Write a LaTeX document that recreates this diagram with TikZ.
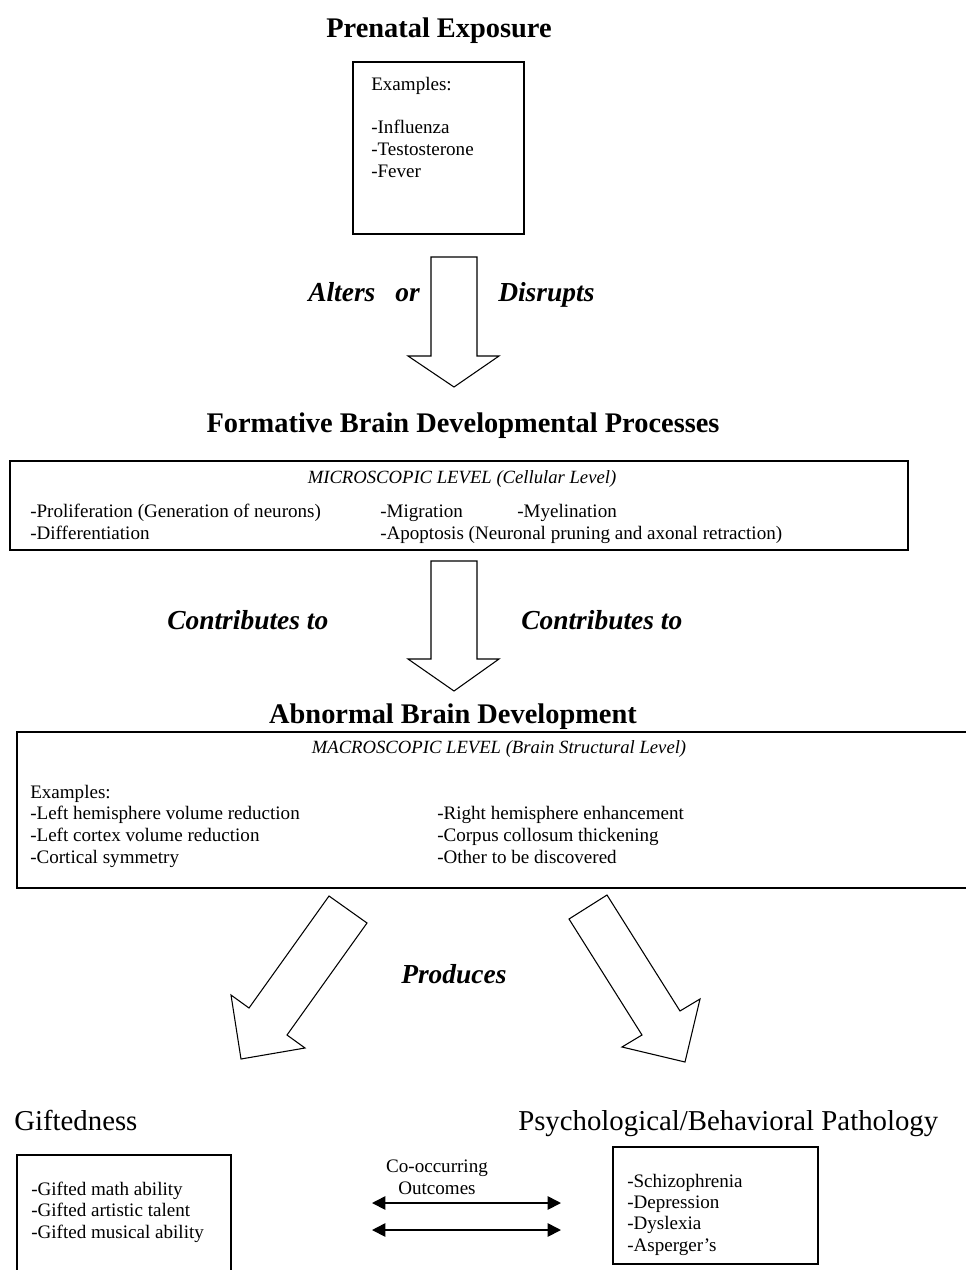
\documentclass[tikz,border=0pt]{standalone}
\usepackage{fontspec}
\setmainfont{Liberation Serif}
\usetikzlibrary{arrows.meta}

\tikzset{
  body/.style={font=\fontsize{14.3}{16.5}\selectfont, inner sep=0pt, anchor=base west},
  head/.style={font=\fontsize{21.3}{25}\selectfont\bfseries, inner sep=0pt, anchor=base},
  verb/.style={font=\fontsize{20.6}{24}\selectfont\bfseries\itshape, inner sep=0pt, anchor=base west},
  outcome/.style={font=\fontsize{21.6}{25}\selectfont, inner sep=0pt, anchor=base west},
  level/.style={font=\fontsize{14}{16.5}\selectfont\itshape, inner sep=0pt, anchor=base},
  frame/.style={draw, line width=1.1pt},
  blockarrow/.style={draw, line width=0.8pt, line join=miter, fill=white},
  both/.style={line width=1.3pt, {Triangle[length=10pt,width=10pt]}-{Triangle[length=10pt,width=10pt]}}
}

\begin{document}
\begin{tikzpicture}[x=0.75pt,y=-0.75pt]
  \useasboundingbox (0,0) rectangle (965,1270);

  % Prenatal exposure
  \node[head] (prenatal) at (439,38) {Prenatal Exposure};
  \draw[frame] (353,62) rectangle (524,234);
  \node[body] (exhead) at (371,90) {Examples:};
  \foreach \lab/\y [count=\i] in {Influenza/133, Testosterone/155, Fever/177}
    \node[body] (ex\i) at (371,\y) {-\lab};

  % Straight block arrows
  \foreach \ytop/\ybot/\ytip in {257/356/387, 561/659/691}
    \draw[blockarrow] (431,\ytop) -- (477,\ytop) -- (477,\ybot) -- (499,\ybot)
      -- (454,\ytip) -- (408,\ybot) -- (431,\ybot) -- cycle;

  \node[verb] (alters) at (308,301) {Alters};
  \node[verb] (or) at (395,301) {or};
  \node[verb] (disrupts) at (498,301) {Disrupts};

  % Formative processes
  \node[head] (formative) at (463,432) {Formative Brain Developmental Processes};
  \draw[frame, line width=1.5pt] (10,461) rectangle (908,550);
  \node[level] (micro) at (462,483) {MICROSCOPIC LEVEL (Cellular Level)};
  \node[body] (prolif) at (30,517) {-Proliferation (Generation of neurons)};
  \node[body] (migr) at (380,517) {-Migration};
  \node[body] (myel) at (517,517) {-Myelination};
  \node[body] (diff) at (30,539) {-Differentiation};
  \node[body] (apop) at (380,539) {-Apoptosis (Neuronal pruning and axonal retraction)};

  \node[verb] (contribl) at (167,629) {Contributes to};
  \node[verb] (contribr) at (521,629) {Contributes to};

  % Abnormal development
  \node[head] (abnormal) at (453,723) {Abnormal Brain Development};
  \draw[frame, line width=1.5pt] (17,732) rectangle (970,888);
  \node[level] (macro) at (499,753) {MACROSCOPIC LEVEL (Brain Structural Level)};
  \node[body] (exmacro) at (30,798) {Examples:};
  \foreach \lab/\y [count=\i] in {Left hemisphere volume reduction/819,
      Left cortex volume reduction/841, Cortical symmetry/863}
    \node[body] (left\i) at (30,\y) {-\lab};
  \foreach \lab/\y [count=\i] in {Right hemisphere enhancement/819,
      Corpus collosum thickening/841, Other to be discovered/863}
    \node[body] (right\i) at (437,\y) {-\lab};

  % Diagonal block arrows
  \draw[blockarrow] (329,896) -- (367,923) -- (287,1035) -- (305,1048)
    -- (241,1059) -- (231,995) -- (249,1008) -- cycle;
  \draw[blockarrow] (607,895) -- (569,919) -- (642,1035) -- (622,1047)
    -- (685,1062) -- (700,999) -- (680,1011) -- cycle;
  \node[verb] (produces) at (401,983) {Produces};

  % Outcomes
  \node[outcome] (gifted) at (14,1130) {Giftedness};
  \node[outcome] (pathology) at (518,1130) {Psychological/Behavioral Pathology};

  \draw[frame] (17,1155) rectangle (231,1280);
  \foreach \lab/\y [count=\i] in {Gifted math ability/1195,
      Gifted artistic talent/1216, Gifted musical ability/1238}
    \node[body] (gift\i) at (31,\y) {-\lab};

  \draw[frame] (613,1147) rectangle (818,1264);
  \foreach \lab/\y [count=\i] in {Schizophrenia/1187, Depression/1208,
      Dyslexia/1229, Asperger’s/1251}
    \node[body] (path\i) at (627,\y) {-\lab};

  \node[body, anchor=base, align=center] (cooc) at (437,1194) {Co-occurring\\Outcomes};
  \coordinate (la) at (372,1203);
  \coordinate (ra) at (561,1203);
  \coordinate (lb) at (372,1230);
  \coordinate (rb) at (561,1230);
  \draw[both] (la) -- (ra);
  \draw[both] (lb) -- (rb);
\end{tikzpicture}
\end{document}
